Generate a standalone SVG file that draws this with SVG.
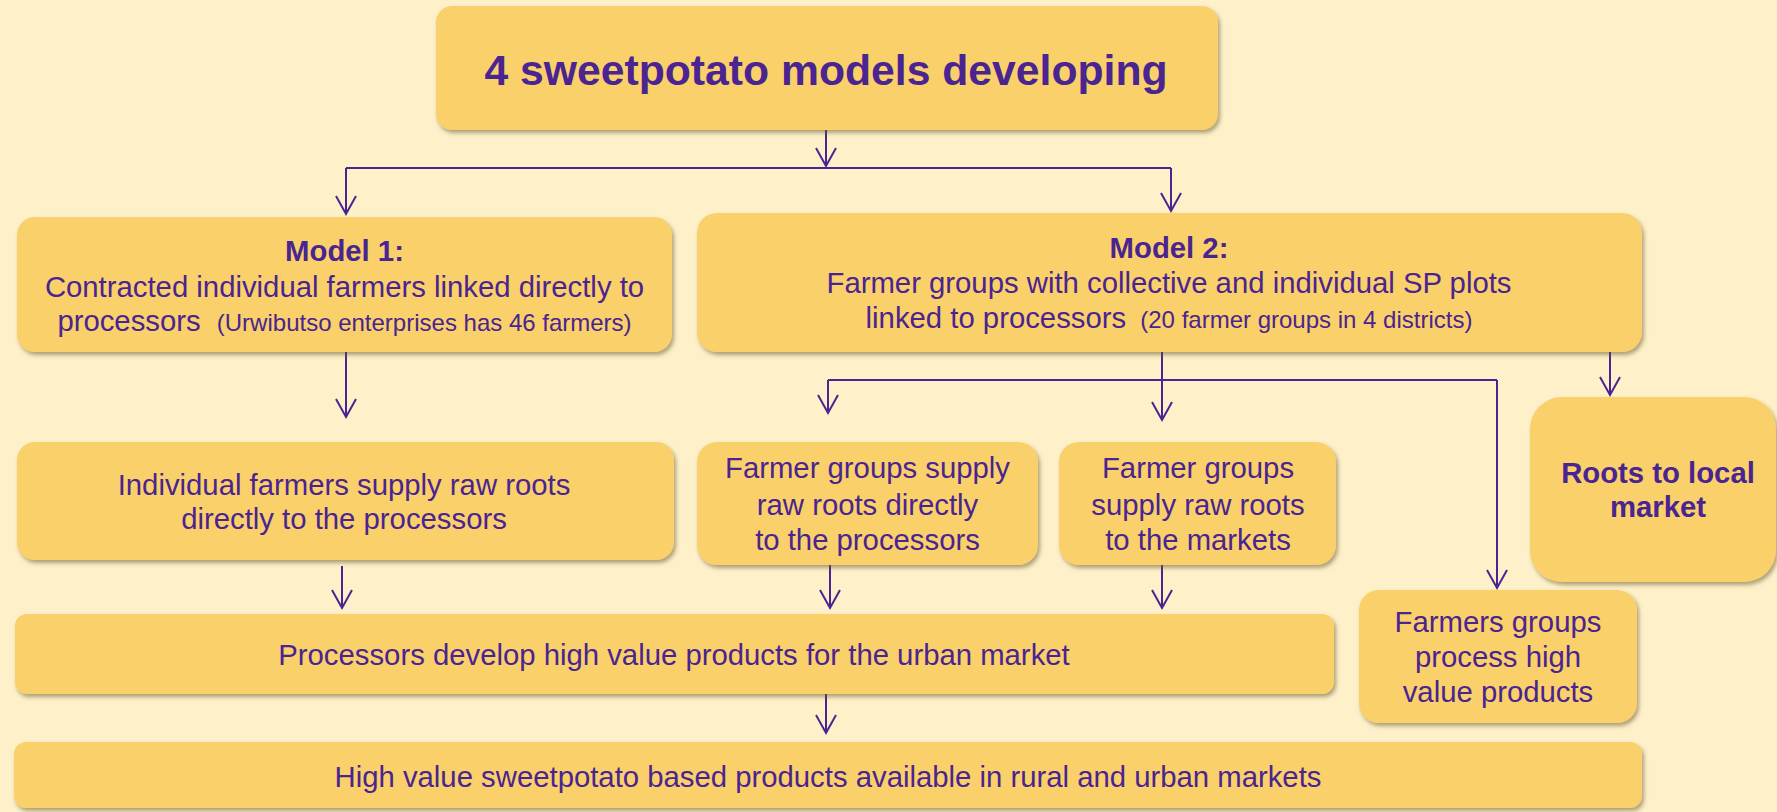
<svg xmlns="http://www.w3.org/2000/svg" width="1777" height="812" viewBox="0 0 1777 812">
  <defs>
    <style>
      .box { fill: #F9D06B; filter: url(#shadow); }
      .t { font-family: "Liberation Sans", Arial, sans-serif; fill: #4A2490; text-anchor: middle; font-size: 29.3px; }
      .b { font-weight: bold; }
      .s { font-size: 24px; }
      .title { font-size: 42.7px; font-weight: bold; }
      .conn { fill: none; stroke: #4A2490; stroke-width: 2; }
      .arr { marker-end: url(#vhead); }
    </style>
    <filter id="shadow" x="-5%" y="-10%" width="110%" height="130%">
      <feDropShadow dx="2" dy="3" stdDeviation="2" flood-color="#6b5a30" flood-opacity="0.55"/>
    </filter>
    <marker id="vhead" markerUnits="userSpaceOnUse" markerWidth="24" markerHeight="24" viewBox="-20 -12 24 24" refX="0" refY="0" orient="auto" overflow="visible">
      <path d="M-18,-10 L0,0 L-18,10" fill="none" stroke="#4A2490" stroke-width="2"/>
    </marker>
  </defs>

  <rect width="1777" height="812" fill="#FEF1CA"/>

  <!-- connectors -->
  <g id="connectors">
    <path class="conn arr" d="M826,130 V166"/>
    <path class="conn" d="M346,168 H1171"/>
    <path class="conn arr" d="M346,168 V214"/>
    <path class="conn arr" d="M1171,168 V211"/>
    <path class="conn arr" d="M346,352 V417"/>
    <path class="conn" d="M1162,352 V380"/>
    <path class="conn" d="M828,380 H1497"/>
    <path class="conn arr" d="M828,380 V413"/>
    <path class="conn arr" d="M1162,380 V420"/>
    <path class="conn arr" d="M1497,380 V588"/>
    <path class="conn arr" d="M1610,352 V395"/>
    <path class="conn arr" d="M342,566 V608"/>
    <path class="conn arr" d="M830,565 V608"/>
    <path class="conn arr" d="M1162,565 V608"/>
    <path class="conn arr" d="M826,694 V733"/>
  </g>

  <g id="title">
    <rect class="box" x="436" y="6" width="782" height="124" rx="16"/>
    <text class="t title" x="826" y="85">4 sweetpotato models developing</text>
  </g>

  <g id="model1">
    <rect class="box" x="17" y="217" width="655" height="135" rx="18"/>
    <text class="t b" x="344.5" y="261">Model 1:</text>
    <text class="t" x="344.5" y="297">Contracted individual farmers linked directly to</text>
    <text class="t" x="344.5" y="331">processors <tspan class="s" dx="8">(Urwibutso enterprises has 46 farmers)</tspan></text>
  </g>

  <g id="model2">
    <rect class="box" x="697" y="213" width="945" height="139" rx="20"/>
    <text class="t b" x="1169" y="258">Model 2:</text>
    <text class="t" x="1169" y="293">Farmer groups with collective and individual SP plots</text>
    <text class="t" x="1169" y="328">linked to processors <tspan class="s" dx="6">(20 farmer groups in 4 districts)</tspan></text>
  </g>

  <g id="individual-supply">
    <rect class="box" x="17" y="442" width="657" height="118" rx="18"/>
    <text class="t" x="344" y="495">Individual farmers supply raw roots</text>
    <text class="t" x="344" y="529">directly to the processors</text>
  </g>

  <g id="groups-to-processors">
    <rect class="box" x="697" y="442" width="341" height="123" rx="20"/>
    <text class="t" x="867.5" y="478">Farmer groups supply</text>
    <text class="t" x="867.5" y="515">raw roots directly</text>
    <text class="t" x="867.5" y="550">to the processors</text>
  </g>

  <g id="groups-to-markets">
    <rect class="box" x="1059" y="442" width="277" height="123" rx="20"/>
    <text class="t" x="1198" y="478">Farmer groups</text>
    <text class="t" x="1198" y="515">supply raw roots</text>
    <text class="t" x="1198" y="550">to the markets</text>
  </g>

  <g id="local-market">
    <rect class="box" x="1530" y="397" width="246" height="185" rx="32"/>
    <text class="t b" x="1658" y="483">Roots to local</text>
    <text class="t b" x="1658" y="517">market</text>
  </g>

  <g id="groups-process">
    <rect class="box" x="1359" y="590" width="278" height="133" rx="20"/>
    <text class="t" x="1498" y="632">Farmers groups</text>
    <text class="t" x="1498" y="667">process high</text>
    <text class="t" x="1498" y="702">value products</text>
  </g>

  <g id="processors">
    <rect class="box" x="15" y="614" width="1319" height="80" rx="12"/>
    <text class="t" x="674" y="665">Processors develop high value products for the urban market</text>
  </g>

  <g id="products-available">
    <rect class="box" x="14" y="742" width="1628" height="66" rx="12"/>
    <text class="t" x="828" y="787">High value sweetpotato based products available in rural and urban markets</text>
  </g>
</svg>
